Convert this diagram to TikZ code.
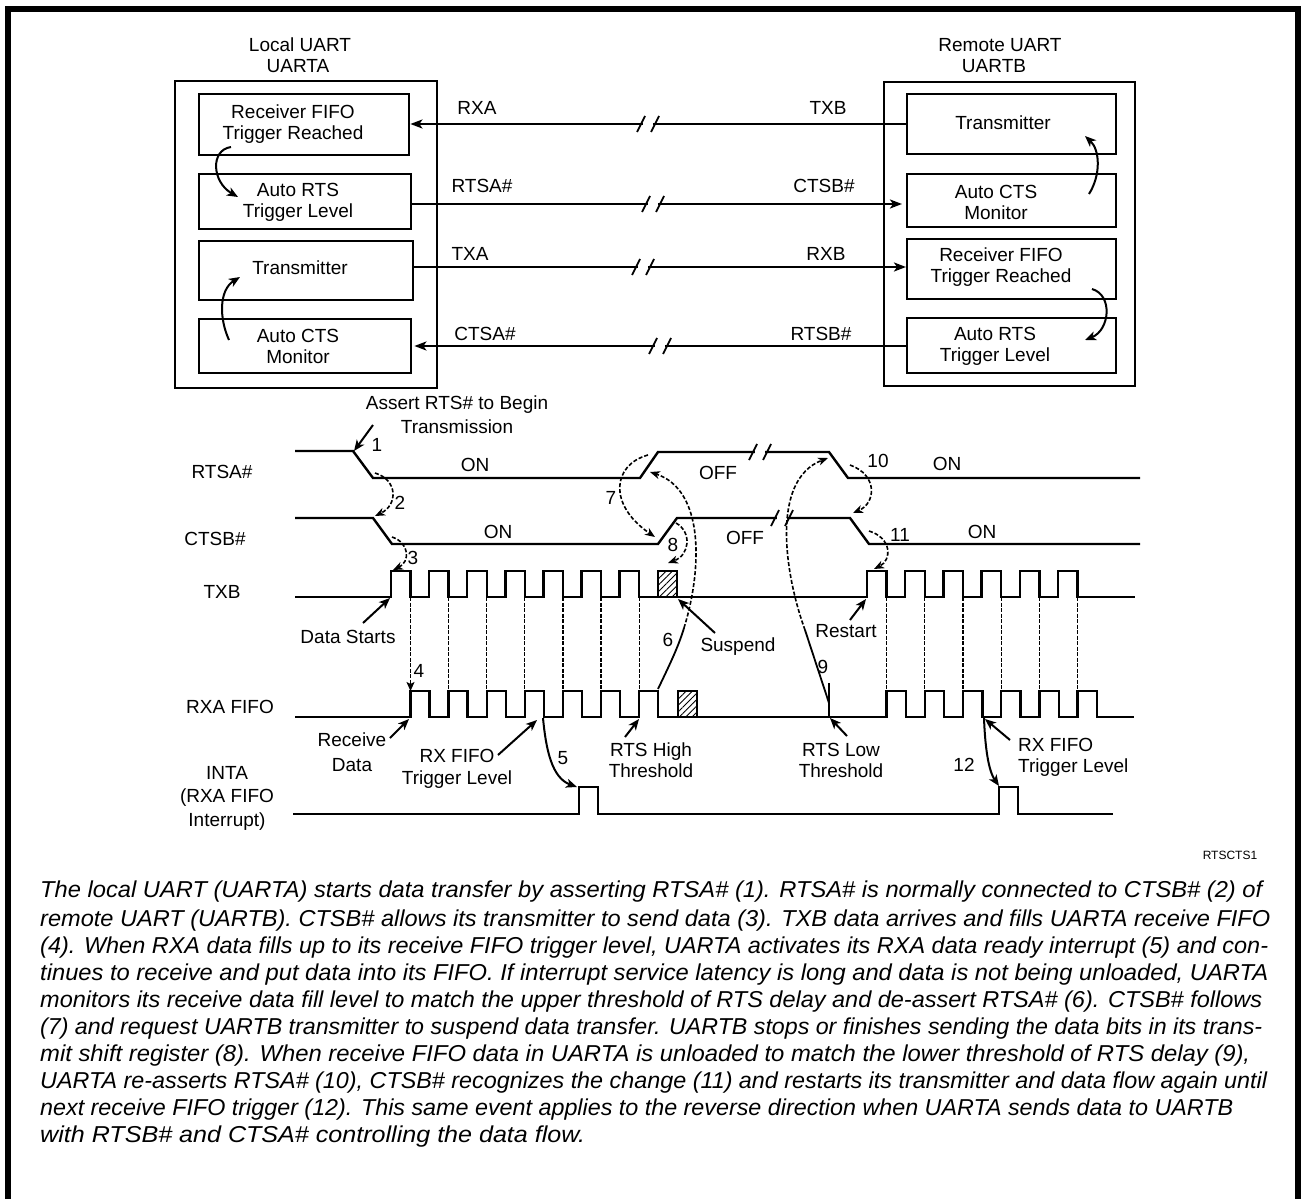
\documentclass[tikz,border=0pt]{standalone}
\usepackage{fontspec}
\setmainfont{Liberation Sans}
\newfontfamily\capfont{Liberation Sans}
\usepackage{graphicx}
\usetikzlibrary{arrows.meta,patterns.meta,calc}

\tikzset{
  lbl/.style={font=\fontsize{19}{21}\selectfont, inner sep=0pt, align=center},
  blk/.style={draw, line width=2.4pt, anchor=north west, inner sep=0pt},
  outerbox/.style={draw, line width=2.4pt, anchor=north west, inner sep=0pt},
  sig/.style={line width=2.4pt},
  tipS/.style={-{Stealth[length=12pt,width=9pt,inset=3pt]}},
  ann/.style={line width=2pt, -{Stealth[length=11pt,width=9pt,inset=3pt]}},
  dsh/.style={line width=1.6pt, dash pattern=on 4pt off 2pt, -{Stealth[length=10pt,width=8pt,inset=3pt]}},
  solidcurve/.style={line width=1.8pt},
  vdash/.style={line width=1.2pt, dash pattern=on 4pt off 1.5pt},
  wave/.style={line width=2.4pt, line join=miter},
  hatch/.style={line width=2pt, pattern={Lines[angle=45,distance=4.5pt,line width=0.9pt]}},
  capline/.style={anchor=base west, inner sep=0pt, font=\capfont\itshape\fontsize{23}{28}\selectfont},
}
\newcommand\brk[2]{%
  \fill[white] (#1-5,#2-5) rectangle (#1+5,#2+5);
  \draw[line width=1.8pt] (#1-11,#2+8) -- (#1-3,#2-8) (#1+3,#2+8) -- (#1+11,#2-8);}

\begin{document}
\begin{tikzpicture}[x=1pt,y=-1pt]
\useasboundingbox (0,0) rectangle (1301,1199);
% frame
\draw[line width=6pt] (8,1199) -- (8,9) -- (1298,9) -- (1298,1199);

% ---------------- block diagram ----------------
\node[lbl] (tA1) at (300,45) {Local UART};
\node[lbl] (tA2) at (298,66) {UARTA};
\node[lbl] (tB1) at (1000,45) {Remote UART};
\node[lbl] (tB2) at (994,66) {UARTB};

\node[outerbox, minimum width=262pt, minimum height=307pt] (UA) at (174,80) {};
\node[outerbox, minimum width=251pt, minimum height=304pt] (UB) at (883,81) {};

\node[blk, minimum width=210pt, minimum height=61pt] (A1) at (198,93) {};
\node[blk, minimum width=212pt, minimum height=55pt] (A2) at (198,173) {};
\node[blk, minimum width=214pt, minimum height=59pt] (A3) at (198,240) {};
\node[blk, minimum width=212pt, minimum height=54pt] (A4) at (198,318) {};
\node[lbl] (A1t) at (293,124) {Receiver FIFO\\Trigger Reached};
\node[lbl] (A2t) at (298,202) {Auto RTS\\Trigger Level};
\node[lbl] (A3t) at (300,268) {Transmitter};
\node[lbl] (A4t) at (298,346) {Auto CTS\\Monitor};

\node[blk, minimum width=209pt, minimum height=60pt] (B1) at (906,93) {};
\node[blk, minimum width=209pt, minimum height=53pt] (B2) at (906,173) {};
\node[blk, minimum width=209pt, minimum height=60pt] (B3) at (906,238) {};
\node[blk, minimum width=209pt, minimum height=55pt] (B4) at (906,317) {};
\node[lbl] (B1t) at (1003,123) {Transmitter};
\node[lbl] (B2t) at (996,202) {Auto CTS\\Monitor};
\node[lbl] (B3t) at (1001,267) {Receiver FIFO\\Trigger Reached};
\node[lbl] (B4t) at (995,346) {Auto RTS\\Trigger Level};

\coordinate (yRXA) at (0,124);
\coordinate (yRTS) at (0,204);
\coordinate (yTXA) at (0,267);
\coordinate (yCTS) at (0,346);

\draw[sig, tipS] (B1.west |- yRXA) -- (A1.east |- yRXA);
\draw[sig, tipS] (A2.east |- yRTS) -- ([xshift=-4pt]B2.west |- yRTS);
\draw[sig, tipS] (A3.east |- yTXA) -- (B3.west |- yTXA);
\draw[sig, tipS] (B4.west |- yCTS) -- ([xshift=2pt]A4.east |- yCTS);
\brk{648}{124}
\brk{653}{204}
\brk{643}{267}
\brk{660}{346}

\node[lbl] (sRXA) at (477,108) {RXA};
\node[lbl] (sRTSA) at (482,186) {RTSA\#};
\node[lbl] (sTXA) at (470,254) {TXA};
\node[lbl] (sCTSA) at (485,334) {CTSA\#};
\node[lbl] (sTXB) at (828,108) {TXB};
\node[lbl] (sCTSB) at (824,186) {CTSB\#};
\node[lbl] (sRXB) at (826,254) {RXB};
\node[lbl] (sRTSB) at (821,334) {RTSB\#};

% internal curved arrows
\coordinate (ca1) at (231,147); \coordinate (ca2) at (238,197);
\draw[ann] (ca1) .. controls (210,150) and (212,182) .. (ca2);
\coordinate (cb1) at (229,340); \coordinate (cb2) at (240,277);
\draw[ann] (cb1) .. controls (219,318) and (219,290) .. (cb2);
\coordinate (cc1) at (1089,194); \coordinate (cc2) at (1085,136);
\draw[ann] (cc1) .. controls (1101,175) and (1100,150) .. (cc2);
\coordinate (cd1) at (1092,289); \coordinate (cd2) at (1085,340);
\draw[ann] (cd1) .. controls (1113,295) and (1110,330) .. (cd2);

% ---------------- timing diagram ----------------
\node[lbl] (wRTSA) at (222,472) {RTSA\#};
\node[lbl] (wCTSB) at (215,539) {CTSB\#};
\node[lbl] (wTXB) at (222,592) {TXB};
\node[lbl] (wRXA) at (230,707) {RXA FIFO};
\node[lbl, font=\fontsize{19}{23.5}\selectfont] (wINTA) at (227,798) {INTA\\(RXA FIFO\\Interrupt)};

% RTSA#
\draw[wave] (295,451) -- (353,451) -- (373,478) -- (640,478) -- (658,452) -- (829,452) -- (848,478) -- (1140,478);
% CTSB#
\draw[wave] (295,518) -- (373,518) -- (392,544) -- (658,544) -- (677,518) -- (850,518) -- (869,544) -- (1140,544);
\brk{760}{452}
\brk{782}{518}
% TXB
\draw[wave] (295,597) foreach \k in {0,...,6} { -- ({391+38.1*\k},597) -- ++(0,-26) -- ++(19.5,0) -- ++(0,26) }
  foreach \k in {0,...,5} { -- ({867+38.2*\k},597) -- ++(0,-26) -- ++(19.5,0) -- ++(0,26) } -- (1135,597);
\draw[hatch] (657.7,597) rectangle (677.2,571);
% RXA FIFO
\draw[wave] (295,717) foreach \k in {0,...,6} { -- ({410.5+38.1*\k},717) -- ++(0,-26) -- ++(19,0) -- ++(0,26) }
  foreach \k in {0,...,5} { -- ({886.5+38.2*\k},717) -- ++(0,-26) -- ++(19.5,0) -- ++(0,26) } -- (1134,717);
\draw[hatch] (677.8,717) rectangle (696.5,691);
\coordinate (tick9a) at (829,717); \coordinate (tick9b) at (829,683);
\draw[wave] (tick9a) -- (tick9b);
% INTA
\draw[wave] (293,814) -- (579,814) -- (579,787) -- (598,787) -- (598,814) -- (999,814) -- (999,787) -- (1018,787) -- (1018,814) -- (1113,814);

% dashed verticals TXB -> RXA
\coordinate (d4a) at (410.5,597); \coordinate (d4b) at (410.5,691);
\draw[vdash, -{Stealth[length=9pt,width=8pt,inset=2pt]}] (d4a) -- (d4b);
\foreach \k in {1,...,6} \draw[vdash] ({410.5+38.1*\k},597) -- ++(0,94);
\foreach \k in {0,...,5} \draw[vdash] ({886.5+38.2*\k},597) -- ++(0,94);

% state labels
\node[lbl] (on1) at (475,465) {ON};
\node[lbl] (off1) at (718,473) {OFF};
\node[lbl] (on2) at (947,464) {ON};
\node[lbl] (on3) at (498,532) {ON};
\node[lbl] (off2) at (745,538) {OFF};
\node[lbl] (on4) at (982,532) {ON};

% numbers
\node[lbl] (n1) at (377,445) {1};
\node[lbl] (n2) at (400,503) {2};
\node[lbl] (n3) at (413,558) {3};
\node[lbl] (n4) at (419,671) {4};
\node[lbl] (n5) at (563,758) {5};
\node[lbl] (n6) at (668,640) {6};
\node[lbl] (n7) at (611,498) {7};
\node[lbl] (n8) at (673,545) {8};
\node[lbl] (n9) at (823,667) {9};
\node[lbl] (n10) at (878,461) {10};
\node[lbl] (n11) at (900,535) {11};
\node[lbl] (n12) at (964,765) {12};

% Assert
\node[lbl, font=\fontsize{19}{24}\selectfont] (assert) at (457,415) {Assert RTS\# to Begin\\Transmission};
\coordinate (a1s) at (373,425); \coordinate (a1t) at (354,451);
\draw[ann] (a1s) -- (a1t);

% dashed causal arrows
\coordinate (c2s) at (375,473); \coordinate (c2t) at (375,516);
\draw[dsh] (c2s) .. controls (398,480) and (398,505) .. (c2t);
\coordinate (c3s) at (392,537); \coordinate (c3t) at (393,570);
\draw[dsh] (c3s) .. controls (410,543) and (410,562) .. (c3t);
\coordinate (c7s) at (648,455); \coordinate (c7t) at (655,537);
\draw[dsh] (c7s) .. controls (612,465) and (608,505) .. (c7t);
\coordinate (c8s) at (676,523); \coordinate (c8t) at (668,563);
\draw[dsh] (c8s) .. controls (692,532) and (690,555) .. (c8t);
\coordinate (c10s) at (850,465); \coordinate (c10t) at (853,513);
\draw[dsh] (c10s) .. controls (878,475) and (876,503) .. (c10t);
\coordinate (c11s) at (869,531); \coordinate (c11t) at (874,569);
\draw[dsh] (c11s) .. controls (892,538) and (892,560) .. (c11t);
% 6
\coordinate (c6s) at (658,689); \coordinate (c6m) at (684,628); \coordinate (c6t) at (650,472);
\draw[solidcurve] (c6s) .. controls (668,668) and (678,648) .. (c6m);
\draw[dsh] (c6m) .. controls (702,570) and (705,490) .. (c6t);
% 9
\coordinate (c9s) at (829,703); \coordinate (c9m) at (805,630); \coordinate (c9t) at (828,458);
\draw[solidcurve] (c9s) -- (c9m);
\draw[dsh] (c9m) .. controls (785,575) and (770,480) .. (c9t);
% 5 and 12
\coordinate (c5s) at (543,718); \coordinate (c5t) at (577,787);
\draw[ann] (c5s) .. controls (546,750) and (552,778) .. (c5t);
\coordinate (c12s) at (984,718); \coordinate (c12t) at (999,786);
\draw[ann] (c12s) .. controls (985,745) and (988,770) .. (c12t);

% annotation labels
\node[lbl] (ds) at (348,637) {Data Starts};
\coordinate (dss) at (363,623); \coordinate (dst) at (390,598);
\draw[ann] (dss) -- (dst);
\node[lbl] (susp) at (738,647) {Suspend};
\coordinate (sus) at (715,633); \coordinate (sut) at (678,599);
\draw[ann] (sus) -- (sut);
\node[lbl] (rest) at (846,631) {Restart};
\coordinate (rss) at (850,620); \coordinate (rst) at (866,599);
\draw[ann] (rss) -- (rst);
\node[lbl, font=\fontsize{19}{25}\selectfont] (recv) at (352,752) {Receive\\Data};
\coordinate (rvs) at (390,738); \coordinate (rvt) at (409,719);
\draw[ann] (rvs) -- (rvt);
\node[lbl, font=\fontsize{19}{22}\selectfont] (rxl) at (457,769) {RX FIFO\\Trigger Level};
\coordinate (rxls) at (498,755); \coordinate (rxlt) at (537,720);
\draw[ann] (rxls) -- (rxlt);
\node[lbl] (rth) at (651,760) {RTS High\\Threshold};
\coordinate (rths) at (625,737); \coordinate (rtht) at (639,719);
\draw[ann] (rths) -- (rtht);
\node[lbl] (rtl) at (841,760) {RTS Low\\Threshold};
\coordinate (rtls) at (847,736); \coordinate (rtlt) at (830,718);
\draw[ann] (rtls) -- (rtlt);
\node[lbl, align=left, anchor=west] (rxr) at (1018,757) {RX FIFO\\Trigger Level};
\coordinate (rxrs) at (1010,740); \coordinate (rxrt) at (985,719);
\draw[ann] (rxrs) -- (rxrt);

\node[lbl, font=\fontsize{12}{14}\selectfont] (code) at (1230,855) {RTSCTS1};

% ---------------- caption ----------------
\node[capline] (L1) at (40,897) {\resizebox{1222pt}{\height}{The local UART (UARTA) starts data transfer by asserting RTSA\# (1). RTSA\# is normally connected to CTSB\# (2) of}};
\node[capline] (L2) at (40,926) {\resizebox{1230pt}{\height}{remote UART (UARTB). CTSB\# allows its transmitter to send data (3). TXB data arrives and fills UARTA receive FIFO}};
\node[capline] (L3) at (40,953) {\resizebox{1228pt}{\height}{(4). When RXA data fills up to its receive FIFO trigger level, UARTA activates its RXA data ready interrupt (5) and con-}};
\node[capline] (L4) at (40,980) {\resizebox{1228pt}{\height}{tinues to receive and put data into its FIFO. If interrupt service latency is long and data is not being unloaded, UARTA}};
\node[capline] (L5) at (40,1007) {\resizebox{1222pt}{\height}{monitors its receive data fill level to match the upper threshold of RTS delay and de-assert RTSA\# (6). CTSB\# follows}};
\node[capline] (L6) at (40,1034) {\resizebox{1222pt}{\height}{(7) and request UARTB transmitter to suspend data transfer. UARTB stops or finishes sending the data bits in its trans-}};
\node[capline] (L7) at (40,1061) {\resizebox{1210pt}{\height}{mit shift register (8). When receive FIFO data in UARTA is unloaded to match the lower threshold of RTS delay (9),}};
\node[capline] (L8) at (40,1088) {\resizebox{1227pt}{\height}{UARTA re-asserts RTSA\# (10), CTSB\# recognizes the change (11) and restarts its transmitter and data flow again until}};
\node[capline] (L9) at (40,1115) {\resizebox{1193pt}{\height}{next receive FIFO trigger (12). This same event applies to the reverse direction when UARTA sends data to UARTB}};
\node[capline] (L10) at (40,1142) {\resizebox{545pt}{\height}{with RTSB\# and CTSA\# controlling the data flow.}};
\end{tikzpicture}
\end{document}
